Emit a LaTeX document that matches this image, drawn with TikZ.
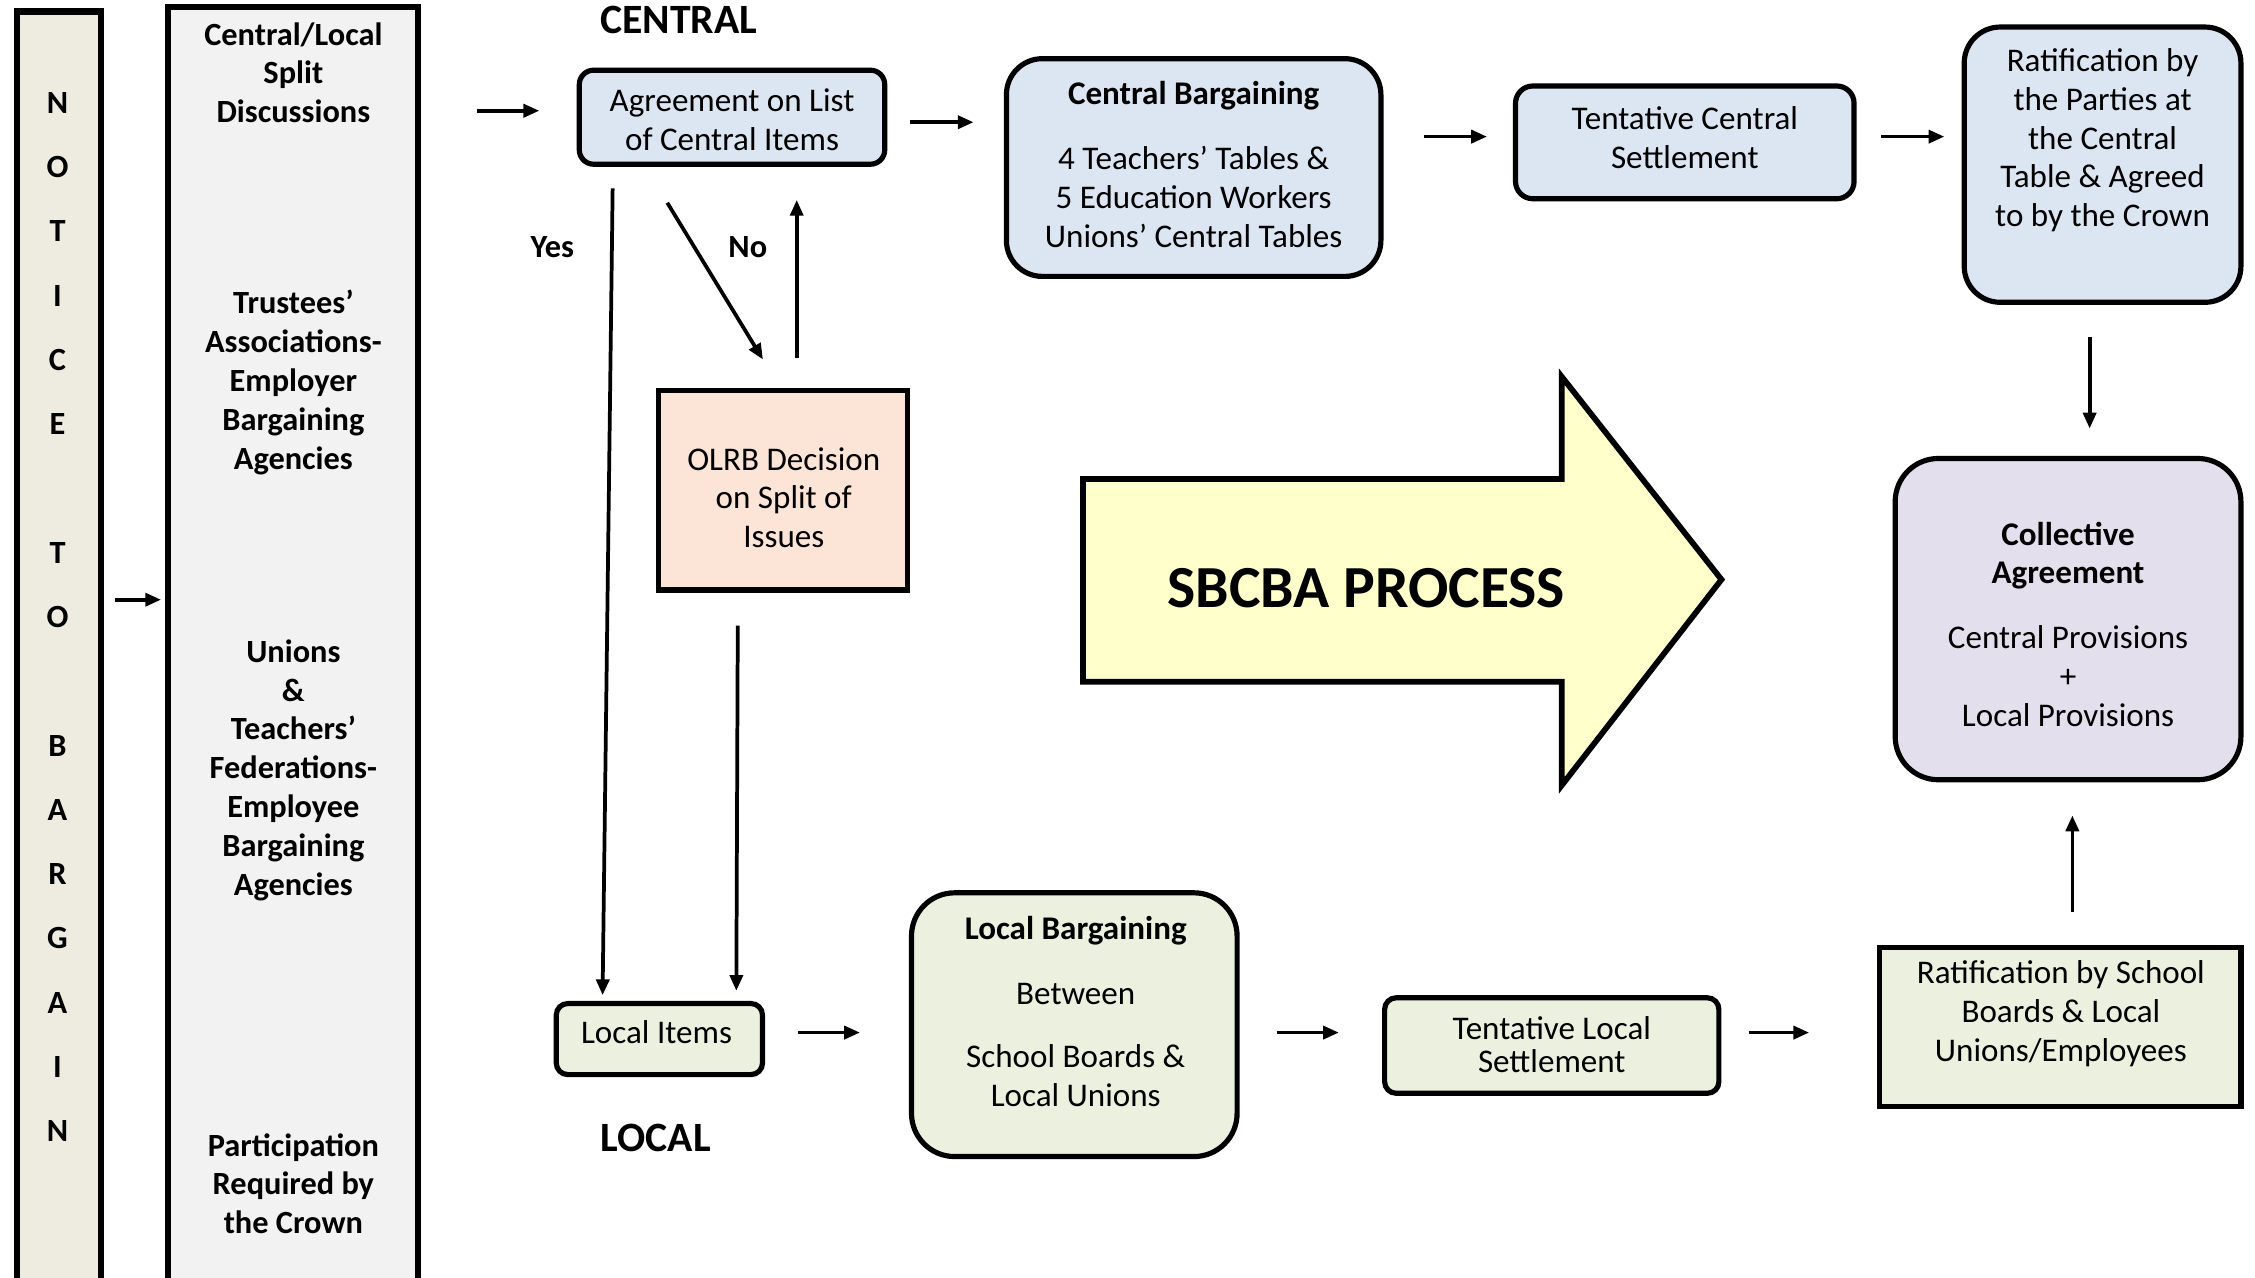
\documentclass[tikz,border=0pt]{standalone}
\usepackage{fontspec}
\setmainfont{Carlito}
\usetikzlibrary{arrows.meta,calc}
\definecolor{noticebg}{HTML}{EEECE1}
\definecolor{splitbg}{HTML}{F2F2F2}
\definecolor{bluebg}{HTML}{DCE6F2}
\definecolor{peachbg}{HTML}{FCE4D6}
\definecolor{yellowbg}{HTML}{FFFFCC}
\definecolor{lavbg}{HTML}{E4DFEC}
\definecolor{greenbg}{HTML}{EBF1DE}
\begin{document}
\begin{tikzpicture}[x=1pt,y=-1pt,
  box/.style={draw, line width=3.6pt, inner sep=0pt, anchor=center},
  arr/.style={-{Triangle[length=11pt,width=9pt]}, line width=2.6pt},
  txt/.style={align=center, inner sep=0pt, font=\fontsize{23}{27}\selectfont},
  btxt/.style={align=center, inner sep=0pt, font=\bfseries\fontsize{22.5}{27}\selectfont}]
\clip (0,0) rectangle (1568,888);
\useasboundingbox (0,0) rectangle (1568,888);

% left columns
\node[box, line width=4.2pt, fill=noticebg, minimum width=57.8pt, minimum height=890pt] (notice) at (41,453) {};
\node[box, line width=4.2pt, fill=splitbg, minimum width=173.8pt, minimum height=893pt] (split) at (204,451.5) {};
\node[btxt, font=\bfseries\fontsize{22.5}{44.7}\selectfont] (noticetxt) at (40,429)
  {N\\O\\T\\I\\C\\E\\\mbox{}\\T\\O\\\mbox{}\\B\\A\\R\\G\\A\\I\\N};
\node[btxt] (s1) at (204,50.5) {Central/Local\\Split\\Discussions};
\node[btxt] (s2) at (204,266) {Trustees’\\Associations-\\Employer\\Bargaining\\Agencies};
\node[btxt] (s3) at (204,535.5) {Unions\\\&\\Teachers’\\Federations-\\Employee\\Bargaining\\Agencies};
\node[btxt] (s4) at (204,823) {Participation\\Required by\\the Crown};

% labels
\node[btxt, font=\bfseries\fontsize{29}{32}\selectfont] (central) at (472,14) {CENTRAL};
\node[btxt, font=\bfseries\fontsize{29}{32}\selectfont] (local) at (456,791) {LOCAL};
\node[btxt] (yes) at (384,172) {Yes};
\node[btxt] (no) at (520,172) {No};

% boxes
\node[box, fill=bluebg, rounded corners=10pt, minimum width=212.4pt, minimum height=65.4pt] (agr) at (509,81.5) {};
\node[txt] at (509,83.5) {Agreement on List\\of Central Items};

\node[box, fill=bluebg, rounded corners=25pt, minimum width=260.4pt, minimum height=151.4pt] (cb) at (830,116.5) {};
\node[txt] at (830,114.5) {\textbf{Central Bargaining}\\[18pt]4 Teachers’ Tables \&\\5 Education Workers\\Unions’ Central Tables};

\node[box, fill=bluebg, rounded corners=12pt, minimum width=235.4pt, minimum height=78.4pt] (tc) at (1171.5,99) {};
\node[txt] at (1171.5,95.5) {Tentative Central\\Settlement};

\node[box, fill=bluebg, rounded corners=25pt, minimum width=192.4pt, minimum height=191.4pt] (rat) at (1462,114.5) {};
\node[txt] at (1462,97.5) {Ratification by\\the Parties at\\the Central\\Table \& Agreed\\to by the Crown};

\node[box, fill=lavbg, rounded corners=30pt, minimum width=240.4pt, minimum height=223.4pt] (col) at (1438,430.5) {};
\node[txt] at (1438,434) {\textbf{Collective}\\\textbf{Agreement}\\[18pt]Central Provisions\\+\\Local Provisions};

\node[box, fill=greenbg, minimum width=251.4pt, minimum height=110.4pt] (rs) at (1432.5,714) {};
\node[txt] at (1433,705) {Ratification by School\\Boards \& Local\\Unions/Employees};

\node[box, fill=greenbg, rounded corners=8pt, minimum width=232.4pt, minimum height=66.4pt] (tl) at (1079,727) {};
\node[txt, font=\fontsize{23}{23}\selectfont] at (1079,726.5) {Tentative Local\\Settlement};

\node[box, fill=greenbg, rounded corners=30pt, minimum width=226.4pt, minimum height=183.4pt] (lb) at (747,712.5) {};
\node[txt] at (748,703.5) {\textbf{Local Bargaining}\\[18pt]Between\\[17pt]School Boards \&\\Local Unions};

\node[box, fill=greenbg, rounded corners=8pt, minimum width=143.4pt, minimum height=49.4pt] (li) at (458.5,722.5) {};
\node[txt] at (456.5,718) {Local Items};

\node[box, fill=peachbg, minimum width=173.4pt, minimum height=138.4pt] (olrb) at (544.5,341) {};
\node[txt] at (545,346) {OLRB Decision\\on Split of\\Issues};

% big arrow
\draw[line width=4pt, fill=yellowbg, line join=miter]
  (753,333) -- (1086,333) -- (1086,262) -- (1197,403) -- (1086,546) -- (1086,474) -- (753,474) -- cycle;
\node[btxt, font=\bfseries\fontsize{41.5}{44}\selectfont] (sbcba) at (950,409) {SBCBA PROCESS};

% connectors
\draw[arr, shorten <=8pt, shorten >=3pt] (notice.east |- 0,417) -- (split.west |- 0,417);
\draw[arr, shorten <=39pt, shorten >=26pt] (split.east |- 0,77) -- (agr.west |- 0,77);
\draw[arr, shorten <=16pt, shorten >=21pt] (agr.east |- 0,85) -- (cb.west |- 0,85);
\draw[arr, shorten <=28pt, shorten >=18pt] (cb.east |- 0,95) -- (tc.west |- 0,95);
\draw[arr, shorten <=17pt, shorten >=12pt] (tc.east |- 0,95) -- (rat.west |- 0,95);
\draw[arr] ($(rat.south)+(-9,22)$) -- ($(col.north)+(15,-19)$);
\draw[arr] ($(rs.north)+(8.5,-23)$) -- ($(col.south)+(3,23)$);
\draw[arr, shorten <=23pt, shorten >=34pt] (li.east |- 0,718) -- (lb.west |- 0,718);
\draw[arr, shorten <=26pt, shorten >=30pt] (lb.east |- 0,718) -- (tl.west |- 0,718);
\draw[arr, shorten <=19pt, shorten >=47pt] (tl.east |- 0,718) -- (rs.west |- 0,718);
\draw[arr] ($(agr.south)+(-83,15)$) -- ($(li.north)+(-39.5,-4)$);
\draw[arr] ($(agr.south)+(-45,25)$) -- ($(olrb.north)+(-14,-20)$);
\draw[arr] ($(olrb.north)+(9.5,-21)$) -- ($(agr.south)+(45,23)$);
\draw[arr] ($(olrb.south)+(-31.5,23)$) -- ($(li.north)+(53.5,-7)$);
\end{tikzpicture}
\end{document}
